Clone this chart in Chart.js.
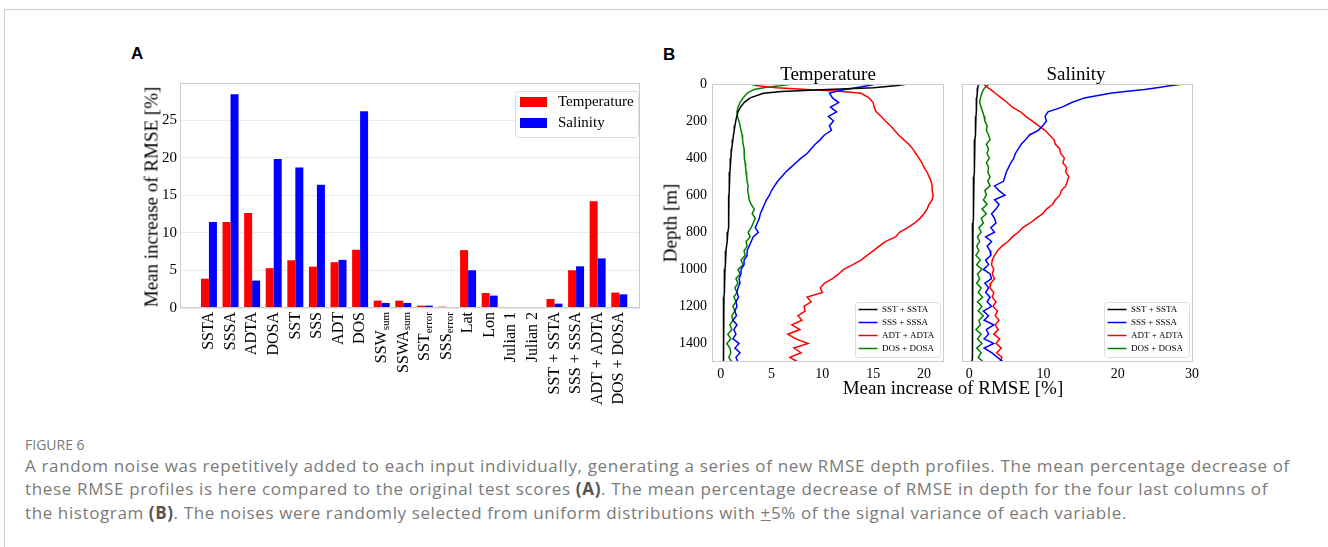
<!DOCTYPE html>
<html><head><meta charset="utf-8">
<script src="https://cdn.jsdelivr.net/npm/chart.js@4/dist/chart.umd.min.js"></script>
<style>
html,body{margin:0;padding:0;background:#fff;}
body{width:1328px;height:547px;position:relative;overflow:hidden;font-family:'Liberation Serif',serif;color:#000;}
canvas{position:absolute;}
.c{position:absolute;transform:translate(-50%,-50%);white-space:nowrap;line-height:1;}
.r{position:absolute;transform:translate(-50%,-50%) rotate(-90deg);white-space:nowrap;line-height:1;}
.lab{position:absolute;font:bold 17px 'Liberation Sans',Arial,sans-serif;line-height:1;}
.cap{position:absolute;left:25px;font-family:'Open Sans',sans-serif;color:#7a7a7a;white-space:nowrap;line-height:1;}
.cap b{color:#555;}
</style></head>
<body>
<div style="position:absolute;left:4px;top:9px;width:1400px;height:700px;border-left:1px solid #ccc;border-top:1px solid #ccc;"></div>
<div class="lab" style="left:131px;top:45px;">A</div>
<div class="lab" style="left:663px;top:46px;">B</div>

<canvas id="cA" width="540" height="350" style="left:120px;top:70px;"></canvas>
<canvas id="cT" width="292" height="320" style="left:662px;top:70px;"></canvas>
<canvas id="cS" width="260" height="320" style="left:952px;top:70px;"></canvas>

<div class="r" style="left:151px;top:197px;font-size:19px;">Mean increase of RMSE [%]</div>
<div class="c" style="left:828px;top:73px;font-size:19px;">Temperature</div>
<div class="c" style="left:1076px;top:73px;font-size:19px;">Salinity</div>
<div class="r" style="left:670px;top:223px;font-size:19px;">Depth [m]</div>
<div class="c" style="left:953px;top:387px;font-size:19px;">Mean increase of RMSE [%]</div>

<div class="cap" style="top:438px;font-size:14px;">FIGURE 6</div>
<div class="cap fit" data-w="1265" style="top:457px;font-size:17px;">A random noise was repetitively added to each input individually, generating a series of new RMSE depth profiles. The mean percentage decrease of</div>
<div class="cap fit" data-w="1243" style="top:480px;font-size:17px;">these RMSE profiles is here compared to the original test scores <b>(A)</b>. The mean percentage decrease of RMSE in depth for the four last columns of</div>
<div class="cap fit" data-w="1102" style="top:504px;font-size:17px;">the histogram <b>(B)</b>. The noises were randomly selected from uniform distributions with <u>+</u>5% of the signal variance of each variable.</div>

<script>
// ---------- Panel A data ----------
const categories = ['SSTA','SSSA','ADTA','DOSA','SST','SSS','ADT','DOS','SSW_sum','SSWA_sum','SST_error','SSS_error','Lat','Lon','Julian 1','Julian 2','SST + SSTA','SSS + SSSA','ADT + ADTA','DOS + DOSA'];
const temperatureIncrease = [3.9, 11.45, 12.65, 5.3, 6.35, 5.5, 6.1, 7.75, 0.98, 0.98, 0.31, 0.18, 7.7, 2.0, 0.09, 0.09, 1.2, 5.02, 14.2, 2.05];
const salinityIncrease = [11.45, 28.45, 3.65, 19.85, 18.7, 16.4, 6.4, 26.2, 0.67, 0.67, 0.31, 0.13, 5.02, 1.65, 0.13, 0.13, 0.58, 5.55, 6.6, 1.82];
const seriesNamesA = ['Temperature','Salinity'];

// ---------- Panel B data ----------
const depths = [0,10,20,30,40,50,75,100,125,150,175,200,225,250,275,300,325,350,375,400,425,450,475,500,525,550,575,600,625,650,675,700,725,750,775,800,825,850,875,900,925,950,975,1000,1025,1050,1075,1100,1125,1150,1175,1200,1225,1250,1275,1300,1325,1350,1375,1400,1425,1450,1475,1500];
const profileNames = ['SST + SSTA','SSS + SSSA','ADT + ADTA','DOS + DOSA'];

const tempSST = [18.4,17.2,15.0,10.5,6.0,4.2,2.9,2.3, 1.95,1.7,1.58,1.48,1.4,1.33,1.26,1.2, 1.14,1.08,1.03,1.0,0.96,0.92,0.9,0.87, 0.85,0.84,0.82,0.81,0.8,0.8,0.79,0.78, 0.78,0.77,0.74,0.7,0.66,0.62,0.57,0.52, 0.49,0.46,0.44,0.42,0.4,0.38,0.36,0.34, 0.33,0.32,0.31,0.3,0.29,0.29,0.28,0.28, 0.27,0.27,0.27,0.26,0.26,0.26,0.26,0.26];
const tempSSS = [15.3,14.4,13.3,12.2,11.3,10.7,11.0,11.6, 10.8,11.4,10.6,11.1,10.7,10.9,10.2,9.8, 9.3,8.9,8.5,7.9,7.4,6.9,6.4,6.0, 5.6,5.3,5.0,4.8,4.5,4.3,4.1,3.9, 3.8,3.6,3.4,3.7,3.2,3.0,2.8,2.6, 2.6,2.3,2.3,2.0,2.0,1.8,1.9,1.7, 1.6,1.75,1.5,1.6,1.4,1.55,1.2,1.6, 1.3,1.5,1.2,1.8,1.4,1.9,1.5,1.7];
const tempADT = [2.9,3.6,5.5,8.5,12.0,13.8,14.6,15.0, 15.1,15.3,15.8,16.2,16.7,17.1,17.5,18.0, 18.5,18.9,19.2,19.5,19.8,20.0,20.3,20.5, 20.7,20.8,20.8,20.9,20.8,20.5,20.3,20.0, 19.6,19.1,18.4,17.6,17.2,16.2,15.6,15.0, 14.4,13.8,13.0,12.1,11.6,11.0,10.2,9.8, 10.0,8.5,8.9,8.2,8.3,7.6,8.0,7.0, 7.8,6.6,7.4,8.6,7.2,7.9,6.8,7.6];
const tempDOS = [7.1,5.8,4.2,3.3,2.9,2.6,2.2,1.9, 1.7,1.6,1.65,1.8,1.9,2.0,2.1,2.15, 2.2,2.3,2.3,2.35,2.4,2.45,2.5,2.55, 2.6,2.7,2.65,2.75,2.8,3.0,3.3,3.1, 3.4,3.2,3.0,2.7,2.9,2.5,2.6,2.3, 2.4,2.0,2.2,1.7,1.9,1.5,1.7,1.4, 1.6,1.3,1.5,1.2,1.4,1.1,1.2,0.9, 1.1,0.7,1.0,0.6,0.9,1.0,0.8,1.1];

const salSST = [1.25,1.2,1.15,1.1,1.08,1.05,1.0,0.98, 0.95,0.93,0.9,0.87,0.85,0.82,0.8,0.76, 0.74,0.72,0.7,0.68,0.67,0.66,0.64,0.63, 0.62,0.6,0.58,0.57,0.56,0.55,0.53,0.52, 0.51,0.5,0.5,0.49,0.48,0.5,0.46,0.48, 0.45,0.47,0.44,0.46,0.43,0.45,0.42,0.44, 0.41,0.43,0.41,0.42,0.4,0.42,0.39,0.41, 0.38,0.4,0.38,0.37,0.39,0.38,0.37,0.36];
const salSSS = [28.8,27.0,25.3,23.6,21.0,19.0,15.5,13.8, 12.5,10.6,10.2,10.4,9.9,9.3,8.1,7.6, 7.0,6.6,6.2,6.0,5.6,5.3,5.0,4.8, 4.6,3.4,4.0,4.8,3.4,4.0,3.6,3.0, 3.4,3.6,2.9,3.4,2.2,3.0,2.4,2.8, 2.9,2.2,2.6,1.9,2.8,3.0,2.1,2.6, 2.2,2.8,2.4,3.0,1.9,2.6,2.0,3.3, 2.3,2.6,2.0,3.3,2.0,3.0,3.8,4.6];
const salADT = [1.9,2.2,2.5,2.9,3.2,3.5,4.3,5.1, 5.8,6.9,7.6,8.5,9.3,10.2,10.8,11.4, 11.6,12.2,12.3,12.8,12.6,13.1,13.0,13.4, 13.2,13.0,12.4,12.2,11.6,11.2,10.4,9.9, 9.0,8.2,7.2,6.6,5.8,5.2,4.4,3.8, 3.4,3.1,3.0,3.3,3.1,3.4,2.9,2.8, 3.3,3.1,3.6,3.2,3.8,3.5,4.0,3.5, 3.9,3.3,4.1,3.6,4.3,3.7,4.4,4.1];
const salDOS = [2.75,2.4,2.1,1.9,1.8,1.7,1.5,1.4, 1.6,1.8,2.0,2.1,2.4,2.3,2.6,2.8, 2.3,2.6,2.4,2.7,2.3,2.6,2.5,2.8, 2.5,2.8,2.1,2.3,1.9,2.4,1.7,2.3, 1.6,1.9,1.3,1.6,1.1,1.4,1.0,1.3, 0.9,1.5,1.0,1.7,1.1,1.4,1.0,1.6, 1.2,1.8,1.1,1.7,1.2,1.9,1.3,1.5, 0.9,1.6,1.1,1.7,1.0,1.6,1.2,1.9];

// ---------- caption width fitting ----------
document.querySelectorAll('.fit').forEach(el => {
  const target = +el.dataset.w;
  const n = el.textContent.length;
  const w = el.getBoundingClientRect().width;
  el.style.letterSpacing = ((target - w) / n).toFixed(3) + 'px';
});

// ---------- plugins ----------
const SERIF = "'Liberation Serif', serif";
const framePlugin = {
  id: 'frameBox',
  afterDatasetsDraw(chart) {
    const a = chart.chartArea, ctx = chart.ctx;
    ctx.save();
    ctx.strokeStyle = '#cccccc'; ctx.lineWidth = 1;
    ctx.strokeRect(Math.round(a.left) + 0.5, Math.round(a.top) + 0.5, Math.round(a.right - a.left) - 1, Math.round(a.bottom - a.top) - 1);
    ctx.restore();
  }
};

function roundRect(ctx, x, y, w, h, r) {
  ctx.beginPath();
  ctx.moveTo(x + r, y); ctx.lineTo(x + w - r, y); ctx.quadraticCurveTo(x + w, y, x + w, y + r);
  ctx.lineTo(x + w, y + h - r); ctx.quadraticCurveTo(x + w, y + h, x + w - r, y + h);
  ctx.lineTo(x + r, y + h); ctx.quadraticCurveTo(x, y + h, x, y + h - r);
  ctx.lineTo(x, y + r); ctx.quadraticCurveTo(x, y, x + r, y);
  ctx.closePath();
}

const xLabelsA = {
  id: 'xLabelsA',
  afterDraw(chart) {
    const ctx = chart.ctx, xs = chart.scales.x, top = chart.chartArea.bottom + 4;
    categories.forEach((lab, i) => {
      const parts = lab.split('_');
      const main = parts[0], sub = parts[1];
      const x = xs.getPixelForValue(i);
      ctx.save();
      ctx.translate(x, top);
      ctx.rotate(-Math.PI / 2);
      ctx.fillStyle = '#000';
      ctx.textBaseline = 'middle';
      ctx.textAlign = 'left';
      ctx.font = '16px ' + SERIF;
      const wm = ctx.measureText(main).width;
      let ws = 0;
      if (sub) { ctx.font = '11px ' + SERIF; ws = ctx.measureText(sub).width; }
      ctx.font = '16px ' + SERIF;
      ctx.fillText(main, -(wm + ws), 0);
      if (sub) { ctx.font = '11px ' + SERIF; ctx.fillText(sub, -ws, 4); }
      ctx.restore();
    });
  }
};

const legendA = {
  id: 'legendA',
  afterDraw(chart) {
    const ctx = chart.ctx, a = chart.chartArea;
    const bw = 123, bh = 46, bx = a.right - bw - 2, by = a.top + 8;
    ctx.save();
    roundRect(ctx, bx + 0.5, by + 0.5, bw, bh, 3);
    ctx.fillStyle = 'rgba(255,255,255,0.85)'; ctx.fill();
    ctx.strokeStyle = '#dddddd'; ctx.lineWidth = 1; ctx.stroke();
    chart.data.datasets.forEach((ds, i) => {
      ctx.fillStyle = ds.backgroundColor;
      ctx.fillRect(bx + 5, by + 6 + i * 21, 27, 10);
      ctx.fillStyle = '#000';
      ctx.font = '15px ' + SERIF;
      ctx.textBaseline = 'middle'; ctx.textAlign = 'left';
      ctx.fillText(ds.label, bx + 43, by + 11.5 + i * 21);
    });
    ctx.restore();
  }
};

const legendB = {
  id: 'legendB',
  afterDraw(chart) {
    const ctx = chart.ctx, a = chart.chartArea;
    const bw = 85, bh = 55, bx = a.right - 4 - bw, by = a.bottom - 5 - bh;
    ctx.save();
    roundRect(ctx, bx + 0.5, by + 0.5, bw, bh, 3);
    ctx.fillStyle = 'rgba(255,255,255,0.85)'; ctx.fill();
    ctx.strokeStyle = '#dddddd'; ctx.lineWidth = 1; ctx.stroke();
    chart.data.datasets.forEach((ds, i) => {
      const y = by + 7.5 + i * 13;
      ctx.strokeStyle = ds.borderColor; ctx.lineWidth = 1.5;
      ctx.beginPath(); ctx.moveTo(bx + 3.5, y); ctx.lineTo(bx + 22.5, y); ctx.stroke();
      ctx.fillStyle = '#000';
      ctx.font = '9px ' + SERIF;
      ctx.textBaseline = 'middle'; ctx.textAlign = 'left';
      ctx.fillText(ds.label, bx + 27, y + 0.5);
    });
    ctx.restore();
  }
};

// ---------- Panel A ----------
new Chart(document.getElementById('cA'), {
  type: 'bar',
  data: {
    datasets: [
      { label: seriesNamesA[0], data: temperatureIncrease.map((v, i) => ({ x: i, y: v })), backgroundColor: '#ff0000', borderWidth: 0, minBarLength: 1 },
      { label: seriesNamesA[1], data: salinityIncrease.map((v, i) => ({ x: i, y: v })), backgroundColor: '#0000ff', borderWidth: 0, minBarLength: 1 }
    ]
  },
  options: {
    responsive: false, animation: false, devicePixelRatio: 1,
    categoryPercentage: 0.74, barPercentage: 1,
    layout: { padding: { left: 0, top: 13, right: 20, bottom: 0 }, autoPadding: false },
    plugins: { legend: { display: false }, tooltip: { enabled: false } },
    scales: {
      x: { type: 'linear', min: -1.34, max: 19.96, offset: false,
           grid: { display: false, drawTicks: false, offset: false }, border: { display: false },
           ticks: { display: false }, afterFit(s) { s.height = 112; } },
      y: { min: 0, max: 29.95,
           grid: { color: '#ebebeb', drawTicks: false }, border: { display: false },
           ticks: { stepSize: 5, includeBounds: false, color: '#000', padding: 3, font: { family: 'Liberation Serif', size: 15 },
                    callback: v => String(v) },
           afterFit(s) { s.width = 60; } }
    }
  },
  plugins: [framePlugin, xLabelsA, legendA]
});

// ---------- Panel B ----------
const colorsB = ['#000000', '#0000ff', '#ff0000', '#008000'];
function profileChart(id, seriesList, xmin, xmax, xstep, showY, yWidth, padRight) {
  return new Chart(document.getElementById(id), {
    type: 'line',
    data: {
      datasets: seriesList.map((vals, k) => ({
        label: profileNames[k],
        data: vals.map((v, i) => ({ x: v, y: depths[i] })),
        borderColor: colorsB[k], backgroundColor: colorsB[k],
        borderWidth: 1.5, tension: 0, fill: false, pointRadius: 0
      }))
    },
    options: {
      responsive: false, animation: false, devicePixelRatio: 1,
      layout: { padding: { left: 0, top: 14, right: padRight, bottom: 0 }, autoPadding: false },
      plugins: { legend: { display: false }, tooltip: { enabled: false } },
      scales: {
        x: { type: 'linear', min: xmin, max: xmax,
             grid: { display: false, drawTicks: false }, border: { display: false },
             ticks: { stepSize: xstep, includeBounds: false, color: '#000', padding: 4, maxRotation: 0, font: { family: 'Liberation Serif', size: 14 },
                      callback: v => String(v) },
             afterFit(s) { s.height = 28; } },
        y: { type: 'linear', min: 0, max: 1500, reverse: true,
             grid: { display: false, drawTicks: false }, border: { display: false },
             ticks: { display: showY, stepSize: 200, includeBounds: false, color: '#000', padding: 5, font: { family: 'Liberation Serif', size: 14 },
                      callback: v => String(v) },
             afterFit(s) { s.width = yWidth; } }
      }
    },
    plugins: [framePlugin, legendB]
  });
}
profileChart('cT', [tempSST, tempSSS, tempADT, tempDOS], -0.856, 21.97, 5, true, 50, 10);
profileChart('cS', [salSST, salSSS, salADT, salDOS], -0.98, 30.13, 10, false, 10, 19);
</script>
</body></html>
